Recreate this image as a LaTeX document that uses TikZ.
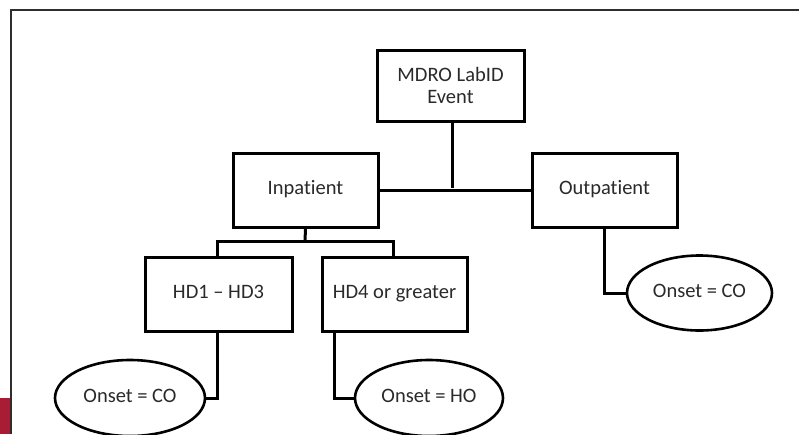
\documentclass[tikz,border=0pt]{standalone}
\usepackage{fontspec}
\setmainfont{Carlito}[Ligatures={NoCommon}]
\usetikzlibrary{shapes.geometric}
\definecolor{txt}{HTML}{2A2A2A}
\definecolor{frame}{HTML}{2E2E2E}
\definecolor{crimson}{HTML}{A81C34}
\begin{document}
\begin{tikzpicture}[x=1pt,y=-1pt,
  box/.style={draw=black,line width=3pt,fill=white,inner sep=0pt,text=txt,font=\fontsize{20.5}{24}\selectfont,align=center},
  oval/.style={ellipse,draw=black,line width=2.6pt,fill=white,inner sep=0pt,text=txt,font=\fontsize{20.5}{24}\selectfont},
  conn/.style={line width=3pt,draw=black}]
\useasboundingbox (0,0) rectangle (799,434);
\fill[white] (0,0) rectangle (799,434);
% frame and decoration
\fill[crimson] (0,398) rectangle (10,434);
\draw[frame,line width=2.2pt] (11,434) -- (11,10) -- (799,10);
% nodes
\node[box,minimum width=147pt,minimum height=71pt] (mdro) at (450.5,85.5) {MDRO LabID\\[-2pt]Event};
\node[box,minimum width=145pt,minimum height=74pt] (inp) at (305.5,190) {\strut Inpatient};
\node[box,minimum width=145pt,minimum height=74pt] (outp) at (604.5,190) {\strut Outpatient};
\node[box,minimum width=147pt,minimum height=74pt] (hd1) at (218.5,294) {\strut HD1 – HD3};
\node[box,minimum width=145pt,minimum height=74pt] (hd4) at (394.5,294) {\strut HD4 or greater};
\node[oval,minimum width=150pt,minimum height=76pt] (co1) at (130,398) {\strut Onset = CO};
\node[oval,minimum width=148pt,minimum height=76pt] (ho) at (429,398) {\strut Onset = HO};
\node[oval,minimum width=145pt,minimum height=75pt] (co2) at (699.5,293) {\strut Onset = CO};
\coordinate (j1) at (452,188);
\coordinate (j2) at (305,241);
% connectors
\draw[conn] (inp.east) -- (outp.west);
\draw[conn] (mdro.south -| j1) -- (j1);
\draw[conn] (inp.south) -- (j2);
\draw[conn] (hd1.north -| 217,0) |- (j2) -| (hd4.north -| 393,0);
\draw[conn] (hd1.south -| 217,0) |- (co1.east);
\draw[conn] (hd4.south -| 334,0) |- (ho.west);
\draw[conn] (outp.south) |- (co2.west);
\end{tikzpicture}
\end{document}
